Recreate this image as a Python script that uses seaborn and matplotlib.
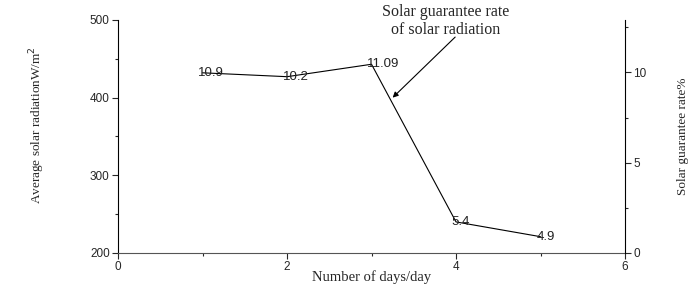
import numpy as np
import pandas as pd
import seaborn as sns
from matplotlib import pyplot as plt
from matplotlib.ticker import MultipleLocator

days = [1, 2, 3, 4, 5]
radiation = [432, 427, 443, 240, 221]
guarantee_rate = [10.9, 10.2, 11.09, 5.4, 4.9]
rate_labels = ["10.9", "10.2", "11.09", "5.4", "4.9"]

sns.set_style("ticks")
plt.rcParams["font.family"] = ["Liberation Sans", "DejaVu Sans"]

df = pd.DataFrame({"day": days, "radiation": radiation})

fig = plt.figure(figsize=(6.91, 2.84), dpi=100)
ax = fig.add_axes([0.1708, 0.1092, 0.7337, 0.8204])

sns.lineplot(data=df, x="day", y="radiation", ax=ax, color="black", linewidth=0.8)

# value labels
for d, r, lab in zip(days, radiation, rate_labels):
    ax.annotate(lab, (d, r), xytext=(-3, 0), textcoords="offset points",
                ha="left", va="center", fontsize=9.5, color="#222222")

ax.set_xlim(0, 6)
ax.set_ylim(200, 500)
ax.xaxis.set_major_locator(MultipleLocator(2))
ax.xaxis.set_minor_locator(MultipleLocator(1))
ax.yaxis.set_major_locator(MultipleLocator(100))
ax.yaxis.set_minor_locator(MultipleLocator(50))
ax.tick_params(axis="both", which="major", direction="out", length=4, width=0.8,
               labelsize=8.5, pad=2)
ax.tick_params(axis="both", which="minor", direction="out", length=2.5, width=0.8)

ax.set_xlabel("Number of days/day", family="Liberation Serif", fontsize=10.5, labelpad=-2)
ax.set_ylabel("Average solar radiationW/m$^2$", family="Liberation Serif",
              fontsize=9.5)
ax.yaxis.set_label_coords(-0.14, 0.55)

ax.spines["top"].set_visible(False)
ax.spines["right"].set_visible(False)
ax.spines["bottom"].set_color("#555555")
ax.spines["left"].set_color("black")

ax2 = ax.twinx()
ax2.set_ylim(0, 12.9)
ax2.yaxis.set_major_locator(MultipleLocator(5))
ax2.yaxis.set_minor_locator(MultipleLocator(2.5))
ax2.tick_params(axis="y", which="major", direction="out", length=4, width=0.8,
                labelsize=8.5, pad=2)
ax2.tick_params(axis="y", which="minor", direction="out", length=2.5, width=0.8)
ax2.set_ylabel("Solar guarantee rate%", family="Liberation Serif", fontsize=9.5,
               labelpad=22)
for s in ["top", "left", "bottom"]:
    ax2.spines[s].set_visible(False)
ax2.spines["right"].set_color("black")

ax.text(3.88, 499, "Solar guarantee rate\nof solar radiation", ha="center",
        va="center", family="Liberation Serif", fontsize=11.5, linespacing=1.15,
        clip_on=False)
ax.annotate("", xy=(3.25, 400), xytext=(3.99, 478), textcoords="data",
            annotation_clip=False,
            arrowprops=dict(arrowstyle="-|>", color="black", lw=0.8,
                            shrinkA=0, shrinkB=0, mutation_scale=8))

fig.savefig("out.png", dpi=100)
